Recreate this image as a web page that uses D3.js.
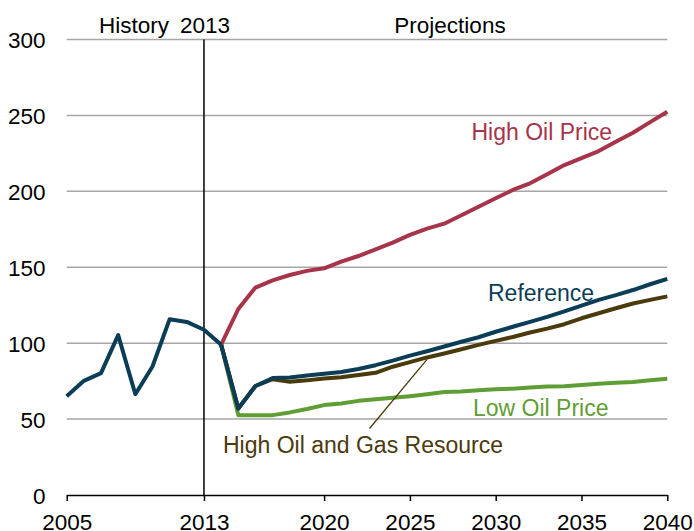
<!DOCTYPE html>
<html>
<head>
<meta charset="utf-8">
<script src="https://cdn.jsdelivr.net/npm/d3@7"></script>
<style>
  html, body { margin: 0; padding: 0; background: #fff; }
  svg { display: block; font-family: "Liberation Sans", Arial, sans-serif; }
</style>
</head>
<body>
<svg id="chart" width="694" height="531"></svg>
<script>
// ---- Data ----
const historyYears = [2005, 2006, 2007, 2008, 2009, 2010, 2011, 2012, 2013, 2014];
const historyValues = [65, 75.2, 80.3, 105.3, 66.4, 84.6, 115.8, 114, 108.8, 99];

const projYears = [2014, 2015, 2016, 2017, 2018, 2019, 2020, 2021, 2022, 2023, 2024, 2025, 2026, 2027,
  2028, 2029, 2030, 2031, 2032, 2033, 2034, 2035, 2036, 2037, 2038, 2039, 2040];

const highOilPrice = [99, 122.5, 136.6, 141.4, 144.9, 147.6, 149.3, 153.7, 157.4, 161.8, 166.2, 171.3, 175.4,
  178.7, 184.2, 189.9, 195.4, 200.9, 205.3, 211.2, 217.3, 221.9, 226.5, 232.7, 238.6, 245.6, 252.4];
const lowOilPrice = [99, 52.6, 52.6, 52.6, 54.4, 56.6, 59.2, 60.3, 62, 63, 64, 65.1, 66.4,
  67.8, 68.2, 69, 69.7, 70, 70.8, 71.5, 71.7, 72.4, 73.2, 74, 74.5, 75.5, 76.5];
const highOilGas = [99, 57, 71.8, 76.3, 74.6, 75.5, 76.8, 77.6, 79, 80.5, 84.5, 87.5, 90.6,
  93.2, 96, 98.9, 101.5, 104.1, 107, 109.6, 112.5, 116.4, 119.7, 123, 126.1, 128.5, 130.8];
const reference = [99, 57, 71.8, 77, 77.4, 78.7, 79.8, 81, 83, 85.5, 88.5, 91.8, 94.7,
  97.8, 100.9, 103.9, 107.5, 110.8, 114, 117.3, 120.9, 124.7, 128.5, 131.6, 135, 138.8, 142.3];

const xTickValues = [2005, 2013, 2020, 2025, 2030, 2035, 2040];
const yTickValues = [0, 50, 100, 150, 200, 250, 300];

const colors = {
  high: "#a7344a",
  low: "#5f9e34",
  hogr: "#4a3a0c",
  ref: "#0c3d57"
};

// ---- Scales ----
const svg = d3.select("#chart");
const x = d3.scaleLinear().domain([2005, 2040]).range([66.7, 667.3]);
const y = d3.scaleLinear().domain([0, 300]).range([495, 39.5]);

// Gridlines
svg.append("g")
  .selectAll("line")
  .data(yTickValues.filter(d => d > 0))
  .join("line")
  .attr("x1", x(2005)).attr("x2", x(2040))
  .attr("y1", d => y(d)).attr("y2", d => y(d))
  .attr("stroke", "#a6a6a6").attr("stroke-width", 1.5);

// Y axis labels
svg.append("g")
  .selectAll("text")
  .data(yTickValues)
  .join("text")
  .attr("x", 45.5)
  .attr("y", d => y(d) + 8.5)
  .attr("text-anchor", "end")
  .attr("font-size", "22.5px")
  .attr("fill", "#000")
  .text(d => d);

// X axis
const xAxis = d3.axisBottom(x)
  .tickValues(xTickValues)
  .tickFormat(d3.format("d"))
  .tickSize(6)
  .tickSizeOuter(0);
const gx = svg.append("g")
  .attr("transform", `translate(0,${y(0)})`)
  .call(xAxis);
gx.select(".domain").attr("stroke", "#000").attr("stroke-width", 1.5);
gx.selectAll(".tick line").attr("stroke", "#000").attr("stroke-width", 1.5);
gx.selectAll(".tick text")
  .attr("font-size", "22.5px")
  .attr("font-family", "\"Liberation Sans\", Arial, sans-serif")
  .attr("fill", "#000")
  .attr("dy", null)
  .attr("y", 35);

// Vertical 2013 divider
svg.append("line")
  .attr("x1", x(2013)).attr("x2", x(2013))
  .attr("y1", y(300)).attr("y2", y(0))
  .attr("stroke", "#000").attr("stroke-width", 1.5);

// Header texts
svg.append("text").attr("x", 169).attr("y", 33).attr("text-anchor", "end")
  .attr("font-size", "22.5px").attr("fill", "#000").text("History");
svg.append("text").attr("x", x(2013) + 1).attr("y", 33).attr("text-anchor", "middle")
  .attr("font-size", "22.5px").attr("fill", "#000").text("2013");
svg.append("text").attr("x", 450).attr("y", 33).attr("text-anchor", "middle")
  .attr("font-size", "22.5px").attr("fill", "#000").text("Projections");

// Lines
const line = d3.line().x(d => x(d[0])).y(d => y(d[1]));
function drawSeries(years, vals, color, w) {
  svg.append("path")
    .datum(years.map((yr, i) => [yr, vals[i]]))
    .attr("d", line)
    .attr("fill", "none")
    .attr("stroke", color)
    .attr("stroke-width", w)
    .attr("stroke-linejoin", "round");
}
drawSeries(projYears, highOilPrice, colors.high, 4);
drawSeries(projYears, lowOilPrice, colors.low, 4);
drawSeries(projYears, highOilGas, colors.hogr, 4);
drawSeries(projYears, reference, colors.ref, 4);
drawSeries(historyYears, historyValues, colors.ref, 4);

// Leader line for High Oil and Gas Resource
svg.append("line")
  .attr("x1", x(2026)).attr("y1", y(highOilGas[12]) + 2)
  .attr("x2", 369.5).attr("y2", 428.5)
  .attr("stroke", colors.hogr).attr("stroke-width", 1.3);

// Series labels
const labels = [
  { text: "High Oil Price", x: 471.5, y: 140, color: colors.high },
  { text: "Reference", x: 488, y: 300.5, color: colors.ref },
  { text: "Low Oil Price", x: 473, y: 415.5, color: colors.low },
  { text: "High Oil and Gas Resource", x: 223, y: 453, color: colors.hogr }
];
svg.append("g").selectAll("text")
  .data(labels)
  .join("text")
  .attr("x", d => d.x).attr("y", d => d.y)
  .attr("font-size", "23px")
  .attr("fill", d => d.color)
  .text(d => d.text);
</script>
</body>
</html>
